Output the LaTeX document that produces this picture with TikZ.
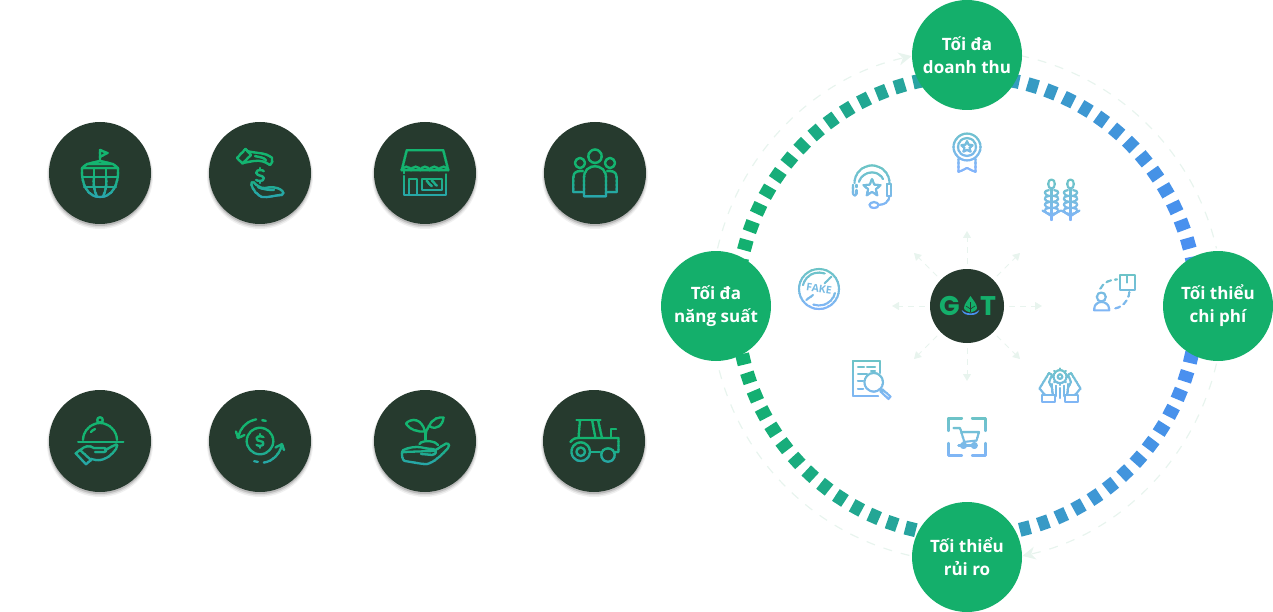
\documentclass[tikz,border=0pt]{standalone}
\usepackage{fontspec}
\setmainfont{Open Sans}
\newfontfamily\logofont{Poppins}
\usetikzlibrary{arrows.meta,calc}
\definecolor{darkdisc}{RGB}{38,58,46}
\definecolor{goalgreen}{RGB}{20,175,107}
\definecolor{ringg}{RGB}{18,176,110}
\definecolor{ringb}{RGB}{74,144,240}
\definecolor{pale}{RGB}{232,244,238}
\definecolor{icga}{RGB}{20,180,112}
\definecolor{icgb}{RGB}{42,165,175}
\definecolor{icla}{RGB}{108,196,198}
\definecolor{iclb}{RGB}{130,180,250}
\tikzset{
  discnode/.style={circle,fill=darkdisc,minimum size=102,inner sep=0},
  goal/.style={circle,fill=goalgreen,minimum size=110,inner sep=0,text=white,align=center,font=\bfseries\fontsize{17}{23}\selectfont},
  orbit/.style={draw=pale,line width=1.2,dash pattern=on 9 off 9},
  spoke/.style={draw=pale,line width=.9,dash pattern=on 6 off 5,shorten <=5,-{Triangle[length=7,width=8,fill=pale]}},
  orbithead/.style={-{Stealth[length=13,width=13,inset=4,fill=pale]}},
}
% gradient-stroked icon: #1 x, #2 y, #3 top colour, #4 bottom colour, #5 gradient start, #6 gradient end, #7 width, #8 code
\newcommand{\gradicon}[8]{%
  \begin{scope}[shift={(#1,-#2)},yscale=-1,line width=#7,line cap=round,line join=round]
  \foreach \bnd in {0,...,15}{%
    \pgfmathsetmacro\yy{-32+4*\bnd}%
    \pgfmathsetmacro\pct{min(100,max(0,100*(\yy+2-(#5))/((#6)-(#5))))}%
    \colorlet{ic}{#4!\pct!#3}%
    \begin{scope}
      \clip (-45,\yy) rectangle (45,\yy+4.5);
      \begin{scope}[color=ic]
      #8
      \end{scope}
    \end{scope}
  }
  \end{scope}
}
\newcommand{\darkicon}[3]{\gradicon{#1}{#2}{icga}{icgb}{-2}{26}{2.3}{#3}}
\newcommand{\lighticon}[3]{\gradicon{#1}{#2}{icla}{iclb}{-20}{22}{2.1}{#3}}
\newcommand{\discbase}[3]{%
  \fill[black,opacity=.06] (#2,-#3-3) circle[radius=53];
  \fill[black,opacity=.09] (#2,-#3-2.5) circle[radius=52];
  \fill[black,opacity=.15] (#2,-#3-2) circle[radius=51];
  \node[discnode] (#1) at (#2,-#3) {};
}
\newcommand{\starshape}[3]{\draw[shift={(#1,#2)},scale=#3] (0,-1)--(.265,-.364)--(.951,-.309)--(.428,.139)--(.588,.809)--(0,.45)--(-.588,.809)--(-.428,.139)--(-.951,-.309)--(-.265,-.364)--cycle;}
\newcommand{\dollar}[3]{\begin{scope}[shift={(#1,#2)},scale=#3]
  \draw (4,-4.5) .. controls (3,-6) and (-4,-6.5) .. (-4,-3) .. controls (-4,1) and (4,-1) .. (4,3) .. controls (4,6.5) and (-3,6) .. (-4,4.5);
  \draw (0,-8)--(0,-6) (0,6)--(0,8);
\end{scope}}
\begin{document}
\begin{tikzpicture}[x=1pt,y=1pt]
\useasboundingbox (0,0) rectangle (1273,-612);
\coordinate (c) at (967,-306);
% orbit arcs
\coordinate (oa) at ($(c)+(167:256)$);
\coordinate (ob) at ($(c)+(78:256)$);
\coordinate (oc) at ($(c)+(-13:256)$);
\coordinate (od) at ($(c)+(-103:256)$);
\draw[orbit,orbithead] (oa) arc[start angle=167,end angle=102.5,radius=256];
\draw[orbit] (ob) arc[start angle=78,end angle=13,radius=256];
\draw[orbit,orbithead] (oc) arc[start angle=-13,end angle=-77.5,radius=256];
\draw[orbit] (od) arc[start angle=-103,end angle=-167,radius=256];
% dashed ring
\foreach \k in {0,...,74}{%
  \pgfmathsetmacro\a{15.8+4.8*\k}%
  \pgfmathsetmacro\ringmix{min(100,max(0,(967+230*cos(\a)-740)/4.5))}%
  \draw[line width=14,color=ringb!\ringmix!ringg] ({967+230*cos(\a-1.35)},{-306+230*sin(\a-1.35)}) -- ({967+230*cos(\a+1.35)},{-306+230*sin(\a+1.35)});
}
% goals
\node[goal] (gtop) at (967,-55) {Tối đa\\doanh thu};
\node[goal] (gleft) at (716,-306) {Tối đa\\năng suất};
\node[goal] (gright) at (1218,-306) {Tối thiểu\\chi phí};
\node[goal] (gbot) at (967,-557) {Tối thiểu\\rủi ro};
% centre and spokes
\node[circle,fill=darkdisc,minimum size=74,inner sep=0] (gat) at (967,-306) {};
\foreach \ang [count=\n] in {0,45,...,315}{
  \coordinate (tip\n) at ($(c)+(\ang:75)$);
  \draw[spoke] (gat) -- (tip\n);
}
\node[anchor=base,inner sep=0,text=goalgreen,font=\logofont\bfseries\fontsize{27}{27}\selectfont] (logog) at (949.5,-315) {G};
\node[anchor=base,inner sep=0,text=goalgreen,font=\logofont\bfseries\fontsize{27}{27}\selectfont] (logot) at (988,-315) {T};
\fill[goalgreen] (970.5,-296) .. controls (973,-300) and (977,-304) .. (977,-308) .. controls (977,-310) and (974,-311.5) .. (970.5,-312.5) .. controls (967,-311.5) and (964,-310) .. (964,-308) .. controls (964,-304) and (968,-300) .. (970.5,-296) -- cycle;
\draw[darkdisc,line width=.6] (970.5,-302)--(970.5,-312) (970.5,-309)--(966,-306) (970.5,-309)--(975,-306);
\fill[ringb] (961.7,-310) .. controls (963,-314) and (966,-315) .. (970.5,-315) .. controls (975,-315) and (978,-314) .. (979.3,-310) .. controls (976,-313) and (973,-313.5) .. (970.5,-313.5) .. controls (968,-313.5) and (965,-313) .. (961.7,-310) -- cycle;
% discs
\discbase{d1}{100}{173}
\discbase{d2}{260}{173}
\discbase{d3}{425}{173}
\discbase{d4}{595}{173}
\discbase{d5}{100}{441}
\discbase{d6}{260}{441}
\discbase{d7}{425}{441}
\discbase{d8}{594}{441}
% globe
\darkicon{100}{173}{
  \draw (0,-12)--(0,-23)--(7.5,-20)--(0.5,-16.5);
  \draw (0,-12)--(-13,-9)--(-18,-5)--(18,-5)--(13,-9)--cycle (-13,-9)--(13,-9);
  \draw (-18,-5) .. controls (-19,12) and (-12,24) .. (0,24) .. controls (12,24) and (19,12) .. (18,-5);
  \draw (-18,4)--(18,4) (-16,14)--(16,14);
  \draw (-6,-5)--(-6,4) (6,-5)--(6,4);
  \draw (-6,4) .. controls (-7,10) and (-6,18) .. (-3,23.5);
  \draw (6,4) .. controls (7,10) and (6,18) .. (3,23.5);
}
% hands dollar
\darkicon{260}{173}{
  \draw (-23,-15)--(-14.5,-24)--(-9,-18)--(-17.5,-9.5)--cycle;
  \draw (-13,-22) .. controls (-5,-20) and (8,-20) .. (12,-15) .. controls (13,-12) and (12,-9) .. (10,-8) .. controls (6,-11) and (0,-13) .. (-6,-12) -- (-17,-10);
  \draw (-5,-17) .. controls (0,-16) and (4,-15) .. (6,-13);
  \dollar{0}{2.5}{.95}
  \draw (-8.5,12) .. controls (-9,9) and (-8,9) .. (-6,9.5) .. controls (-3,13) and (0,15) .. (5,15) .. controls (10,13.5) and (18,14) .. (21,17) .. controls (24,19) and (24,21) .. (22,22) .. controls (14,22) and (8,25) .. (2,24) .. controls (-3,22) and (-7,17) .. (-8.5,12) -- cycle;
  \draw (-2,14) .. controls (4,17) and (10,17) .. (14,17);
}
% shop
\darkicon{425}{173}{
  \draw (-18.3,-22.7)--(18.3,-22.7)--(23.3,-2.7)--(-23.3,-2.7)--cycle;
  \foreach \sx in {-23.3,-14,-4.7,4.6,13.9}{ \draw (\sx,-2.7) arc[start angle=180,end angle=0,x radius=4.65,y radius=-3.5]; }
  \draw (-21,3)--(-21,21.7)--(21,21.7)--(21,1.5);
  \draw (-21,-2)--(-21,0);
  \draw (-15.7,21.7)--(-15.7,5.7)--(-7.7,5.7)--(-7.7,21.7);
  \draw (-3.3,5.7) rectangle (16.7,16.7);
  \draw (1.7,8)--(6.7,13.3) (6.7,7.3)--(11.7,12.7);
}
% people
\darkicon{595}{173}{
  \draw (0,-16.7) circle[radius=6.7];
  \draw (-15,-10) circle[radius=5] (15,-10) circle[radius=5];
  \draw (-11,23.3)--(-11,5) .. controls (-11,-3) and (-6,-6.7) .. (0,-6.7) .. controls (6,-6.7) and (11,-3) .. (11,5) -- (11,23.3) -- cycle;
  \draw (-11,19)--(-21.7,19)--(-21.7,5) .. controls (-21.7,0) and (-19,-2) .. (-15,-2) -- (-12,-2);
  \draw (11,19)--(21.7,19)--(21.7,5) .. controls (21.7,0) and (19,-2) .. (15,-2) -- (12,-2);
}
% cloche
\darkicon{100}{441}{
  \draw (0,-21) circle[radius=2.8];
  \draw (-17,-1) .. controls (-17,-10) and (-9,-18) .. (0,-18) .. controls (9,-18) and (17,-10) .. (17,-1);
  \draw (-5,-12) .. controls (-7,-11) and (-8,-10) .. (-9,-9);
  \draw (-21.7,1)--(23.3,1);
  \draw (-24.3,12.3)--(-20,9)--(-9,19)--(-14,23.3)--cycle;
  \draw (-20,9) .. controls (-15,5) and (-11,4) .. (-6,7) -- (4,7) .. controls (7,7) and (7,11) .. (4,11) -- (-5,11);
  \draw (5,9) -- (16,3.5) .. controls (18,3) and (17,6) .. (16,8) .. controls (11,15) and (4,20) .. (-4,19) -- (-9,18);
}
% coins
\darkicon{260}{441}{
  \draw (0,0) circle[radius=13.3];
  \dollar{0}{0}{.85}
  \draw (-100:22) arc[start angle=-100,end angle=-170,radius=22];
  \draw (-22,-3)--(-24,-9.5) (-22,-3)--(-15.5,-6);
  \draw (-84:21) arc[start angle=-84,end angle=-74,radius=21];
  \draw (80:22) arc[start angle=80,end angle=10,radius=22];
  \draw (22,3)--(24,9) (22,3)--(15.5,6.5);
  \draw (96:21) arc[start angle=96,end angle=106,radius=21];
}
% sprout
\darkicon{425}{441}{
  \draw (-19,-17.5) .. controls (-13,-24) and (-3,-22) .. (0,-9.5) .. controls (-8,-9) and (-15,-11) .. (-19,-17.5) -- cycle;
  \draw (4,-15) .. controls (8,-23) and (14,-24) .. (18.5,-23.5) .. controls (18,-16) and (12,-10) .. (4,-15) -- cycle;
  \draw (0.5,-9.5)--(0.5,-1);
  \draw (4,-15) .. controls (2,-12) and (0.5,-9) .. (0.5,-6);
  \draw (-5.5,3) .. controls (-3,-1) and (9,-1) .. (13,4);
  \draw (-23,11) .. controls (-23,8) and (-14,6) .. (-8,6) .. controls (-3,6) and (2,8) .. (8,8) .. controls (12,8) and (12,14) .. (7,14) -- (-4,13);
  \draw (9,10) -- (21,2.5) .. controls (25,2) and (24.5,6) .. (23,7) .. controls (17,14) and (8,22) .. (2,23) .. controls (-6,23) and (-13,21) .. (-20,20) .. controls (-23,19) and (-23,15) .. (-23,11) -- cycle;
}
% tractor
\darkicon{594}{441}{
  \draw (-17.5,-21)--(6.5,-21);
  \draw (-14,-21)--(-15.5,-3);
  \draw (-2,-21)--(1.5,-3) (4,-21)--(8,-3);
  \draw (-23.5,1) .. controls (-22,-2) and (-18,-3) .. (-15.5,-3) -- (24.5,-3) -- (24.5,11) -- (20,11);
  \draw (17,-3)--(17,-11.7)--(22,-11.7);
  \draw (-13.3,10.7) circle[radius=9.3];
  \draw (-13.3,10.7) circle[radius=4.3];
  \draw (14,14) circle[radius=6.7];
  \draw (-3.5,11)--(6,11);
}
% medal
\lighticon{967}{147}{
  \draw (0,0) circle[radius=13.5];
  \draw (0,0) circle[radius=9];
  \starshape{0}{0}{6}
  \draw (-8.5,12)--(-8.5,25)--(0,21)--(8.5,25)--(8.5,12);
}
% headset
\lighticon{872}{188}{
  \draw (-17.5,-5) arc[start angle=180,end angle=360,radius=17.5];
  \draw (-13,-6) .. controls (-11,-13) and (-5,-15.5) .. (0,-15.5) .. controls (5,-15.5) and (9,-13) .. (11,-9);
  \starshape{0}{0}{9}
  \draw (-19,-3)--(-19,6) .. controls (-19,8) and (-15.5,8) .. (-15.5,6);
  \draw (-15.5,6)--(-15.5,2);
  \draw (-15.5,-3)--(-15.5,-1);
  \draw (15,-4) rectangle (19,8);
  \draw (17.5,8) .. controls (17,14) and (12,17) .. (6.5,17);
  \draw (2,17) ellipse[x radius=4.5,y radius=3];
}
% wheat
\lighticon{1061}{200}{
  \foreach \sx in {-9.5,9.5}{
    \begin{scope}[shift={(\sx,0)}]
    \draw (0,-16) ellipse[x radius=3.4,y radius=4.5];
    \draw (0,-11)--(0,20);
    \foreach \ry in {-7,-1,5,11}{
      \draw (0,\ry+3) .. controls (-8.5,\ry+3) and (-8.5,\ry-3) .. (-2.5,\ry-3);
      \draw (0,\ry+3) .. controls (8.5,\ry+3) and (8.5,\ry-3) .. (2.5,\ry-3);
    }
    \draw (0,16)--(-9,10.5) (0,16)--(9,10.5);
    \end{scope}
  }
}
% fake
\lighticon{819}{289}{
  \draw (0,0) circle[radius=20];
  \draw (-16,-4) arc[start angle=194,end angle=290,radius=16.5];
  \draw (16,4) arc[start angle=14,end angle=110,radius=16.5];
  \draw (-12.7,11)--(-6,6) (5.7,-5.7)--(12.3,-12.3);
}
\node[rotate=-8,inner sep=0,text=icla!45!iclb,font=\bfseries\fontsize{10.5}{10.5}\selectfont] (faketext) at (819,-289) {FAKE};
% box and person
\lighticon{1112}{292}{
  \draw (7.7,-16.7) rectangle (22.7,-2.3);
  \draw (15.2,-16.7)--(15.2,-9.5);
  \draw[dash pattern=on 5 off 4] (-11.7,-3.3) .. controls (-9,-9) and (-2,-12.7) .. (5,-12.7);
  \draw[dash pattern=on 5 off 4] (17.3,0) .. controls (17,8) and (10,16.7) .. (0,16.7);
  \draw (-10.7,5) circle[radius=4.5];
  \draw (-18,18.3) .. controls (-18,12) and (-14,10) .. (-10.5,10) .. controls (-7,10) and (-2.7,12) .. (-2.7,18.3) -- cycle;
}
% report
\lighticon{872}{380}{
  \draw (7.7,-7)--(7.7,-19.3)--(-19.3,-19.3)--(-19.3,16)--(6,16);
  \draw (-14,-13)--(-8,-13) (-5,-13)--(3,-13) (-14,-5.7)--(-5,-5.7) (-14,1)--(-9,1) (-14,9)--(-9,9);
  \draw (-1,-9)--(3,-9);
  \draw (1.7,2.3) circle[radius=9.3];
  \draw (8,9)--(10.5,11.5);
  \draw (10.5,9.5)--(18.5,16.5)--(16.5,19)--(8.5,11.5)--cycle;
}
% hands gear
\lighticon{1060}{385}{
  \draw (0,-8.3) circle[radius=6.5];
  \draw (0,-8.3) circle[radius=2.3];
  \foreach \ga in {0,45,...,315}{ \draw[shift={(0,-8.3)}] (\ga:6.5)--(\ga:8.2); }
  \draw (-3.7,1)--(-3.7,11) (0,3)--(0,13) (3.7,1)--(3.7,11);
  \draw (-7.7,-1)--(-7.7,7) (7.7,-1)--(7.7,7);
  \draw (-18.3,10) rectangle (-5,17.3) (18.3,10) rectangle (5,17.3);
  \draw (-15,10)--(-20.5,3.5)--(-11,-12)--(-8,-10)--(-11,-3)--(-8,3)--(-7,10);
  \draw (15,10)--(20.5,3.5)--(11,-12)--(8,-10)--(11,-3)--(8,3)--(7,10);
}
% cart
\lighticon{967}{437}{
  \draw (-18.5,-6)--(-18.5,-18.5)--(-5,-18.5) (5,-18.5)--(18.5,-18.5)--(18.5,-6);
  \draw (-18.5,6)--(-18.5,18.5)--(-5,18.5) (5,18.5)--(18.5,18.5)--(18.5,6);
  \draw (-13.5,-9)--(-7,-9)--(-2,7);
  \draw (-5.5,-5)--(12,-5)--(9.5,3.5)--(-3.5,5);
  \draw (-8.5,8.5)--(9,8.5);
  \draw (-3.5,8.5) circle[radius=2.5] (7.3,8.5) circle[radius=2.5];
}
\end{tikzpicture}
\end{document}
